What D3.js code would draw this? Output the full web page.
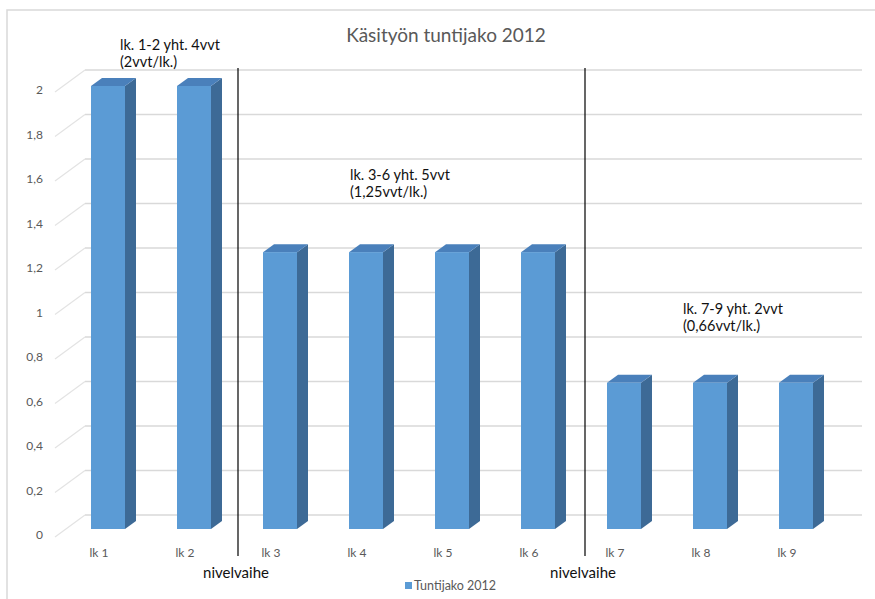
<!DOCTYPE html>
<html>
<head>
<meta charset="utf-8">
<script src="https://cdn.jsdelivr.net/npm/d3@7"></script>
<style>
  body { margin: 0; background: #fff; }
  text { font-family: Lato, "Open Sans", sans-serif; }
</style>
</head>
<body>
<div id="chart"></div>
<script>
const width = 875;
const height = 599;

const categories = ["lk 1", "lk 2", "lk 3", "lk 4", "lk 5", "lk 6", "lk 7", "lk 8", "lk 9"];
const values = [2, 2, 1.25, 1.25, 1.25, 1.25, 0.66, 0.66, 0.66];
const yTicks = [0, 0.2, 0.4, 0.6, 0.8, 1, 1.2, 1.4, 1.6, 1.8, 2];
const dividers = [["lk 2", "lk 3"], ["lk 6", "lk 7"]];
const notes = [
  { lines: ["lk. 1-2 yht. 4vvt", "(2vvt/lk.)"], x: 120, y: 50 },
  { lines: ["lk. 3-6 yht. 5vvt", "(1,25vvt/lk.)"], x: 350, y: 180 },
  { lines: ["lk. 7-9 yht. 2vvt", "(0,66vvt/lk.)"], x: 683, y: 314 }
];

const depthX = 30, depthY = -22;   // floor depth
const barDX = 11, barDY = -8;      // bar depth
const barW = 34;

const svg = d3.select("#chart")
  .append("svg")
  .attr("width", width)
  .attr("height", height);

// frame
svg.append("path")
  .attr("d", `M7,${height} V10 H${width}`)
  .attr("fill", "none")
  .attr("stroke", "#d9d9d9")
  .attr("stroke-width", 1.5);

const x = d3.scalePoint().domain(categories).range([108, 796]);
const yBack = d3.scaleLinear().domain([0, 2]).range([515, 70]);
const yFront = d3.scaleLinear().domain([0, 2]).range([529, 86]);
const fmt = v => d3.format(".1~f")(v).replace(".", ",");

// gridlines: back wall + diagonal on the side
const grid = svg.append("g");
yTicks.forEach(t => {
  grid.append("line")
    .attr("x1", 85).attr("x2", 862)
    .attr("y1", yBack(t)).attr("y2", yBack(t))
    .attr("stroke", "#d9d9d9").attr("stroke-width", 1.5);
  grid.append("line")
    .attr("x1", 85 - depthX).attr("y1", yBack(t) - depthY)
    .attr("x2", 85).attr("y2", yBack(t))
    .attr("stroke", "#e3e3e3").attr("stroke-width", 1.2);
  grid.append("text")
    .attr("x", 43).attr("y", yBack(t) - depthY - 1)
    .attr("text-anchor", "end")
    .attr("dominant-baseline", "middle")
    .attr("font-size", 12)
    .attr("fill", "#595959")
    .text(fmt(t));
});

// bars
const bars = svg.append("g").selectAll("g")
  .data(categories.map((c, i) => ({ c, v: values[i] })))
  .enter().append("g");

bars.append("path")
  .attr("fill", "#3d6a96")
  .attr("d", d => {
    const x1 = x(d.c) + barW / 2, yt = yFront(d.v), yb = yFront(0);
    return `M${x1},${yt} L${x1 + barDX},${yt + barDY} L${x1 + barDX},${yb + barDY} L${x1},${yb} Z`;
  });

bars.append("path")
  .attr("fill", "#4a80bb")
  .attr("d", d => {
    const x0 = x(d.c) - barW / 2, x1 = x(d.c) + barW / 2, yt = yFront(d.v);
    return `M${x0},${yt} L${x1},${yt} L${x1 + barDX},${yt + barDY} L${x0 + barDX},${yt + barDY} Z`;
  });

bars.append("rect")
  .attr("fill", "#5b9bd5")
  .attr("x", d => x(d.c) - barW / 2)
  .attr("y", d => yFront(d.v))
  .attr("width", barW)
  .attr("height", d => yFront(0) - yFront(d.v));

// category labels
svg.append("g").selectAll("text")
  .data(categories)
  .enter().append("text")
  .attr("x", d => x(d) - 9)
  .attr("y", 557)
  .attr("text-anchor", "middle")
  .attr("font-size", 12)
  .attr("fill", "#595959")
  .text(d => d);

// divider lines with "nivelvaihe"
dividers.forEach(([a, b], i) => {
  const xm = (x(a) + x(b)) / 2 + (i === 0 ? 1 : 4);
  svg.append("line")
    .attr("x1", xm).attr("x2", xm)
    .attr("y1", 68).attr("y2", 556)
    .attr("stroke", "#000").attr("stroke-width", 1.2);
  svg.append("text")
    .attr("x", xm - 2).attr("y", 578)
    .attr("text-anchor", "middle")
    .attr("font-size", 15)
    .attr("fill", "#111")
    .text("nivelvaihe");
});

// annotations
notes.forEach(n => {
  const t = svg.append("text")
    .attr("x", n.x).attr("y", n.y)
    .attr("font-size", 14.5)
    .attr("fill", "#111");
  n.lines.forEach((l, i) => {
    t.append("tspan").attr("x", n.x).attr("dy", i === 0 ? 0 : 17).text(l);
  });
});

// title
svg.append("text")
  .attr("x", 446).attr("y", 42)
  .attr("text-anchor", "middle")
  .attr("font-size", 19)
  .attr("fill", "#595959")
  .text("Käsityön tuntijako 2012");

// legend
svg.append("rect")
  .attr("x", 405).attr("y", 582)
  .attr("width", 7).attr("height", 7)
  .attr("fill", "#5b9bd5");
svg.append("text")
  .attr("x", 414).attr("y", 590)
  .attr("font-size", 12.5)
  .attr("fill", "#595959")
  .text("Tuntijako 2012");
</script>
</body>
</html>
